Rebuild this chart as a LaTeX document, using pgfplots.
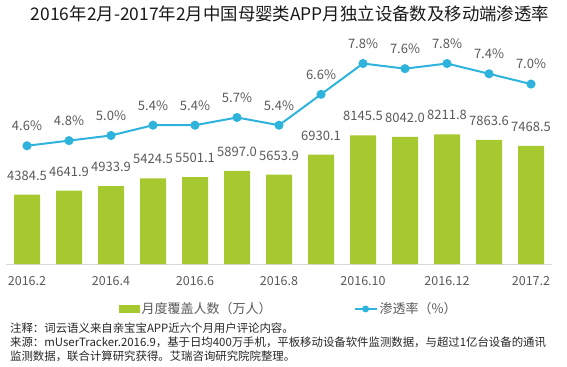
\documentclass[border=0pt]{standalone}
\usepackage{pgfplots}
\pgfplotsset{compat=1.18}
\usepackage{fontspec}
\setmainfont{Noto Sans CJK SC}
\definecolor{barc}{RGB}{166,201,48}
\definecolor{linec}{RGB}{46,180,220}
\definecolor{txt}{RGB}{89,89,89}
\begin{document}
\begin{tikzpicture}[x=1bp,y=1bp]
\path[use as bounding box] (0,0) rectangle (567,366);
\node[font=\fontsize{17.4bp}{19bp}\selectfont, text=black!90] at (290,352) {2016年2月-2017年2月中国母婴类APP月独立设备数及移动端渗透率};
\begin{axis}[
  at={(6bp,102bp)}, anchor=south west,
  scale only axis, width=546bp, height=210bp,
  xmin=-0.5, xmax=12.5, ymin=0, ymax=13291,
  axis x line*=bottom, axis y line=none,
  axis line style={draw=black!15, line width=0.8bp, -},
  xtick={0,2,4,6,8,10,12},
  xticklabels={2016.2,2016.4,2016.6,2016.8,2016.10,2016.12,2017.2},
  major tick length=0pt,
  xticklabel style={font=\fontsize{12.5bp}{14bp}\selectfont, text=txt, yshift=-9bp},
  ytick=\empty,
  clip=false,
  legend style={at={(0.518,-0.214)}, anchor=center, draw=none, fill=none,
    legend columns=2, font=\fontsize{13bp}{15bp}\selectfont, text=txt,
    /tikz/every even column/.append style={column sep=80bp},
    legend cell align=left, inner sep=0pt},
]
\addplot[ybar, bar width=26bp, fill=barc, draw=none, forget plot,
  nodes near coords, nodes near coords style={font=\fontsize{13bp}{15bp}\selectfont, text=txt, anchor=south, inner sep=0pt, yshift=14bp},
  point meta=explicit symbolic]
  table[meta=lab] {
x y lab
0 4384.5 4384.5
1 4641.9 4641.9
2 4933.9 4933.9
3 5424.5 5424.5
4 5501.1 5501.1
5 5897.0 5897.0
6 5653.9 5653.9
7 6930.1 6930.1
8 8145.5 8145.5
9 8042.0 8042.0
10 8211.8 8211.8
11 7863.6 7863.6
12 7468.5 7468.5
};
\addlegendimage{legend image code/.code={\fill[barc] (0bp,-3.5bp) rectangle (20bp,3.5bp);}}
\addlegendentry{月度覆盖人数（万人）}
\addlegendimage{legend image code/.code={\draw[linec, line width=2bp] (0bp,0bp) -- (22bp,0bp); \fill[linec] (11bp,0bp) circle (3.2bp);}}
\addlegendentry{渗透率（\%）}
\end{axis}
\begin{axis}[
  at={(6bp,102bp)}, anchor=south west,
  scale only axis, width=546bp, height=210bp,
  xmin=-0.5, xmax=12.5, ymin=0, ymax=8.17,
  hide axis, clip=false,
]
\addplot[linec, line width=2bp, mark=*, mark size=3.5bp, mark options={fill=linec, draw=linec},
  nodes near coords, nodes near coords style={font=\fontsize{13bp}{15bp}\selectfont, text=txt, anchor=south, inner sep=0pt, yshift=14bp},
  point meta=explicit symbolic]
  table[meta=lab] {
x y lab
0 4.6 4.6\%
1 4.8 4.8\%
2 5.0 5.0\%
3 5.4 5.4\%
4 5.4 5.4\%
5 5.7 5.7\%
6 5.4 5.4\%
7 6.6 6.6\%
8 7.8 7.8\%
9 7.6 7.6\%
10 7.8 7.8\%
11 7.4 7.4\%
12 7.0 7.0\%
};
\end{axis}
\begin{scope}[every node/.style={anchor=west, inner sep=0pt, font=\fontsize{11.4bp}{13bp}\selectfont, text=black!85}]
\node at (10,38) {注释：词云语义来自亲宝宝APP近六个月用户评论内容。};
\node at (10,24) {来源：mUserTracker.2016.9，基于日均400万手机，平板移动设备软件监测数据，与超过1亿台设备的通讯};
\node at (10,10) {监测数据，联合计算研究获得。艾瑞咨询研究院院整理。};
\end{scope}
\end{tikzpicture}
\end{document}
